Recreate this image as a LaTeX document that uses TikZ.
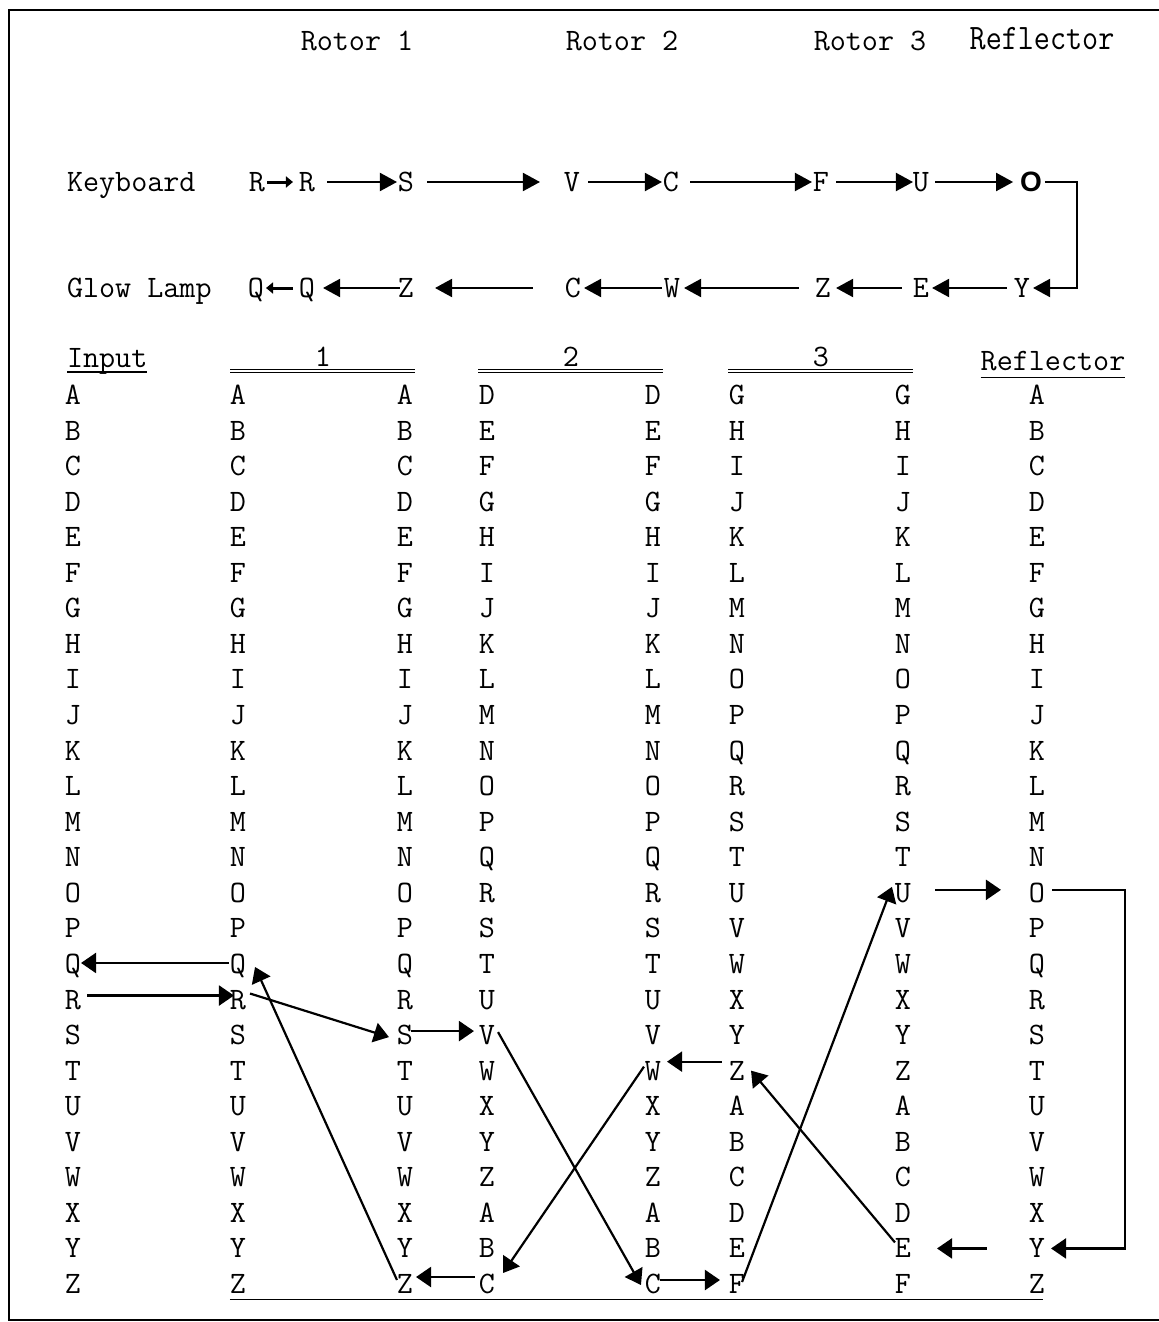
\documentclass[tikz,border=0pt]{standalone}
\usepackage{fontspec}
\newfontfamily\ofont{Liberation Sans}
\usetikzlibrary{arrows.meta}
\begin{document}
\begin{tikzpicture}[x=0.5pt,y=-0.5pt,
  lt/.style={font=\ttfamily\fontsize{15.6}{18}\selectfont, inner sep=0pt, outer sep=0pt,
             text height=9.5pt, text depth=0pt},
  hd/.style={lt, anchor=west},
  arr/.style={line width=1.1pt, -{Triangle[length=7.5pt,width=10pt]}},
  tarr/.style={line width=1pt, -{Triangle[length=8.5pt,width=9pt]}},
  sarr/.style={line width=1.5pt, -{Triangle[length=3.5pt,width=5.5pt]}},
  rule/.style={line width=0.8pt}
]
\useasboundingbox (0,0) rectangle (1159,1322);
\fill[white] (0,0) rectangle (1159,1322);

% frame (open on the right)
\draw[line width=1.3pt] (1180,10) -- (9,10) -- (9,1320) -- (1180,1320);

% top headings
\node[lt] (h-rot1) at (357,41) {Rotor 1};
\node[lt] (h-rot2) at (622,41) {Rotor 2};
\node[lt] (h-rot3) at (870,41) {Rotor 3};
\node[lt, font=\ttfamily\fontsize{15.6}{18}\selectfont\addfontfeatures{FakeBold=1.2}] (h-refl) at (1042,40)
  {\scalebox{1}[1.15]{Reflector}};

% keyboard path
\node[hd] (kb) at (67,182) {Keyboard};
\node[lt] (k1) at (257,182) {R};
\node[lt] (k2) at (307,182) {R};
\node[lt] (k3) at (406,182) {S};
\node[lt] (k4) at (572,182) {V};
\node[lt] (k5) at (671,182) {C};
\node[lt] (k6) at (821,182) {F};
\node[lt] (k7) at (921,182) {U};
\node[font=\ofont\fontsize{14}{16}\selectfont\bfseries, inner sep=0pt, outer sep=0pt,
      text height=9.5pt, text depth=0pt] (k8) at (1031,182) {O};

% glow lamp path
\node[hd] (gl) at (67,288) {Glow Lamp};
\node[lt] (g1) at (256,288) {Q};
\node[lt] (g2) at (307,288) {Q};
\node[lt] (g3) at (406,288) {Z};
\node[lt] (g4) at (573,288) {C};
\node[lt] (g5) at (672,288) {W};
\node[lt] (g6) at (823,288) {Z};
\node[lt] (g7) at (921,288) {E};
\node[lt] (g8) at (1022,288) {Y};

\draw[sarr] ([xshift=1pt]k1.east) -- ([xshift=-3pt]k2.west);
\draw[tarr] ([xshift=6pt]k2.east) -- ([xshift=-0.5pt]k3.west);
\draw[tarr] ([xshift=6.5pt]k3.east) -- ([xshift=-12pt]k4.west);
\draw[tarr] ([xshift=4pt]k4.east) -- ([xshift=-0.5pt]k5.west);
\draw[tarr] ([xshift=5.5pt]k5.east) -- ([xshift=-0.5pt]k6.west);
\draw[tarr] ([xshift=3.5pt]k6.east) -- (k7.west);
\draw[tarr] ([xshift=3pt]k7.east) -- ([xshift=-3.5pt]k8.west);
\draw[tarr] ([xshift=1.5pt]k8.east) -- ++(32,0) |- ([xshift=1.5pt]g8.east);

\draw[tarr] ([xshift=-3.5pt]g8.west) -- ([xshift=1.5pt]g7.east);
\draw[tarr] ([xshift=-5.5pt]g7.west) -- ([xshift=2.5pt]g6.east);
\draw[tarr] ([xshift=-8pt]g6.west) -- ([xshift=2pt]g5.east);
\draw[tarr] ([xshift=-1pt]g5.west) -- ([xshift=1.5pt]g4.east);
\draw[tarr] ([xshift=-16pt]g4.west) -- ([xshift=10.5pt]g3.east);
\draw[tarr] ([xshift=1pt]g3.west) -- ([xshift=4pt]g2.east);
\draw[sarr] ([xshift=-3pt]g2.west) -- ([xshift=1pt]g1.east);

% table headings
\node[hd] (h-in) at (67,358) {Input};
\draw[rule] ([yshift=-2.3pt]h-in.south west) -- ([yshift=-2.3pt]h-in.south east);
\node[lt] (h-1) at (323,357) {1};
\node[lt] (h-2) at (571,357) {2};
\node[lt] (h-3) at (821,357) {3};
\foreach \h in {1,2,3} {
  \draw[line width=0.8pt] ([shift={(-93,12.5)}]h-\h.center) -- ([shift={(92,12.5)}]h-\h.center);
  \draw[line width=0.8pt] ([shift={(-93,15.5)}]h-\h.center) -- ([shift={(92,15.5)}]h-\h.center);
}
\node[lt] (h-ref) at (1053,361) {Reflector};
\draw[rule] ([yshift=-3.5pt]h-ref.south west) -- ([yshift=-3.5pt]h-ref.south east);

% letter columns
\foreach \L [count=\n from 0] in {A,B,C,D,E,F,G,H,I,J,K,L,M,N,O,P,Q,R,S,T,U,V,W,X,Y,Z} {
  \node[lt] (in-\L) at (73,{395+35.56*\n}) {\L};
  \node[lt] (ra-\L) at (238,{395+35.56*\n}) {\L};
  \node[lt] (rb-\L) at (405,{395+35.56*\n}) {\L};
  \node[lt] (ref-\L) at (1037,{395+35.56*\n}) {\L};
}
\foreach \L [count=\n from 0] in {D,E,F,G,H,I,J,K,L,M,N,O,P,Q,R,S,T,U,V,W,X,Y,Z,A,B,C} {
  \node[lt] (rc-\L) at (487,{395+35.56*\n}) {\L};
  \node[lt] (rd-\L) at (653,{395+35.56*\n}) {\L};
}
\foreach \L [count=\n from 0] in {G,H,I,J,K,L,M,N,O,P,Q,R,S,T,U,V,W,X,Y,Z,A,B,C,D,E,F} {
  \node[lt] (re-\L) at (737,{395+35.56*\n}) {\L};
  \node[lt] (rf-\L) at (903,{395+35.56*\n}) {\L};
}

% base rule under the rotors
\draw[line width=0.9pt] ([shift={(0,6)}]ra-Z.south west) -- ([shift={(-2,6)}]ref-Z.south east);

% signal path through the rotors
\draw[arr] ([shift={(6,-4)}]in-R.east) -- ([shift={(4,-4)}]ra-R.west);
\draw[arr] ([shift={(-1,-1)}]ra-Q.west) -- ([shift={(0,-1)}]in-Q.east);
\draw[arr] ([shift={(4,-6)}]ra-R.east) -- ([shift={(-8,2)}]rb-S.west);
\draw[arr] ([shift={(-2,-4)}]rb-S.east) -- ([shift={(-5,-4)}]rc-V.west);
\draw[arr] ([shift={(3,-3)}]rc-V.east) -- ([shift={(-4,1)}]rd-C.west);
\draw[arr] ([shift={(-1,-4)}]rd-C.east) -- ([shift={(-9,-4)}]re-F.west);
\draw[arr] ([shift={(-3,-2)}]re-F.east) -- ([shift={(-3,-6)}]rf-U.west);
\draw[arr] ([shift={(24,-3)}]rf-U.east) -- ([shift={(-28,-3)}]ref-O.west);
\draw[arr] ([shift={(7,-3)}]ref-O.east) -- ++(73,0) |- ([shift={(6,0)}]ref-Y.east);
\draw[arr] ([shift={(-42,0)}]ref-Y.west) -- ([shift={(26,0)}]rf-E.east);
\draw[arr] ([shift={(0,-6)}]rf-E.west) -- ([shift={(6,0)}]re-Z.east);
\draw[arr] ([shift={(-7,-9)}]re-Z.west) -- ([shift={(6,-9)}]rd-W.east);
\draw[arr] ([shift={(-1,-4)}]rd-W.west) -- ([shift={(8,-1.5)}]rc-C.north east);
\draw[arr] ([shift={(-4,-7)}]rc-C.west) -- ([shift={(3,-7)}]rb-Z.east);
\draw[arr] ([shift={(0,-4)}]rb-Z.west) -- ([shift={(9,3)}]ra-Q.east);
\end{tikzpicture}
\end{document}
